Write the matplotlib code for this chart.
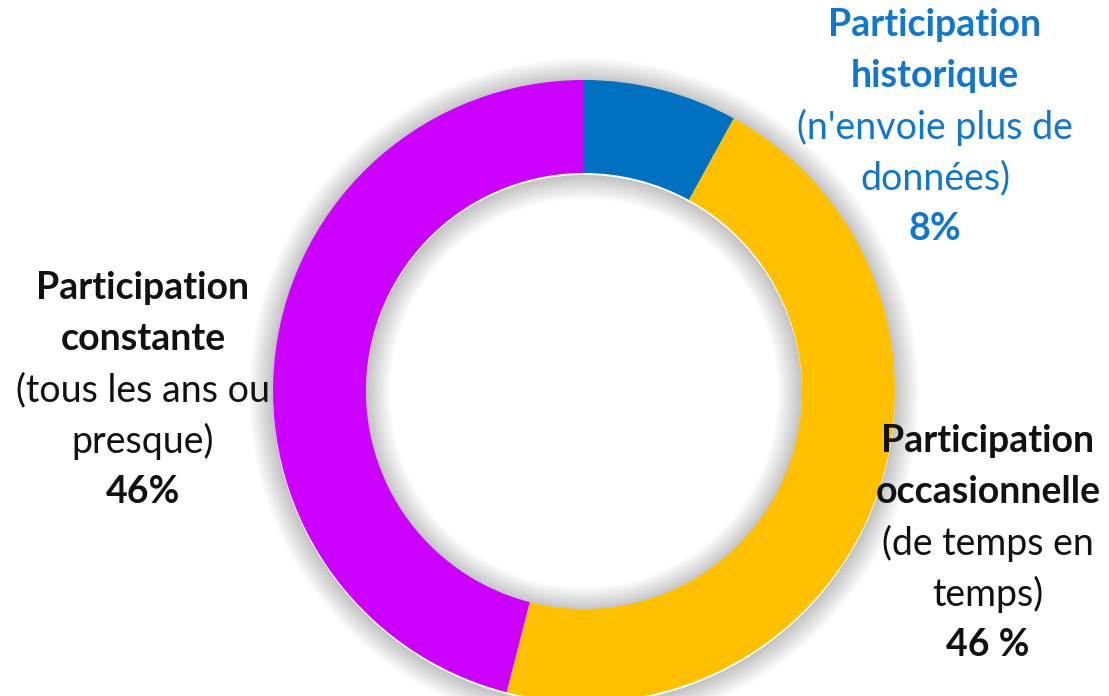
import matplotlib.pyplot as plt
from matplotlib.patches import Wedge

# data
labels_bold = ["Participation\nhistorique", "Participation\noccasionnelle", "Participation\nconstante"]
labels_note = ["(n'envoie plus de\ndonnées)", "(de temps en\ntemps)", "(tous les ans ou\npresque)"]
pct_text = ["8%", "46 %", "46%"]
values = [8, 46, 46]
colors = ["#0070C0", "#FFC000", "#CC00FF"]
text_colors = ["#1177CC", "#111111", "#111111"]

W, H = 1109, 696
fig = plt.figure(figsize=(W / 100, H / 100), dpi=100)
ax = fig.add_axes([0, 0, 1, 1])

cx, cy = 584, H - 391
r_out, r_in = 311, 218

# soft shadow around the ring
for i in range(1, 16):
    ax.add_patch(Wedge((cx, cy - 2), r_out + i * 1.6, 0, 360, width=i * 1.6,
                       color="#000000", alpha=0.014, lw=0, zorder=1))
    ax.add_patch(Wedge((cx, cy - 2), r_in, 0, 360, width=i * 1.6,
                       color="#000000", alpha=0.014, lw=0, zorder=1))

ax.pie(values, colors=colors, startangle=90, counterclock=False,
       center=(cx, cy), radius=r_out, frame=True,
       wedgeprops=dict(width=r_out - r_in, linewidth=0, zorder=2))
ax.set_xlim(0, W)
ax.set_ylim(0, H)
ax.set_aspect("equal")
ax.axis("off")

plt.rcParams['font.family'] = ['Lato', 'DejaVu Sans']
fs = 27
step = 51
# (x center, y of first line from top)
spots = [(935, 25), (988, 441), (143, 288)]
for k in range(3):
    x, y0 = spots[k]
    lines_b = labels_bold[k].split("\n")
    lines_n = labels_note[k].split("\n")
    y = y0
    for t in lines_b:
        ax.text(x, H - y, t, ha="center", va="center", fontsize=fs,
                fontweight="bold", color=text_colors[k], zorder=5)
        y += step
    for t in lines_n:
        ax.text(x, H - y, t, ha="center", va="center", fontsize=fs,
                fontweight="normal", color=text_colors[k], zorder=5)
        y += step
    ax.text(x, H - y, pct_text[k], ha="center", va="center", fontsize=fs,
            fontweight="bold", color=text_colors[k], zorder=5)

plt.savefig("out.png", dpi=100)
